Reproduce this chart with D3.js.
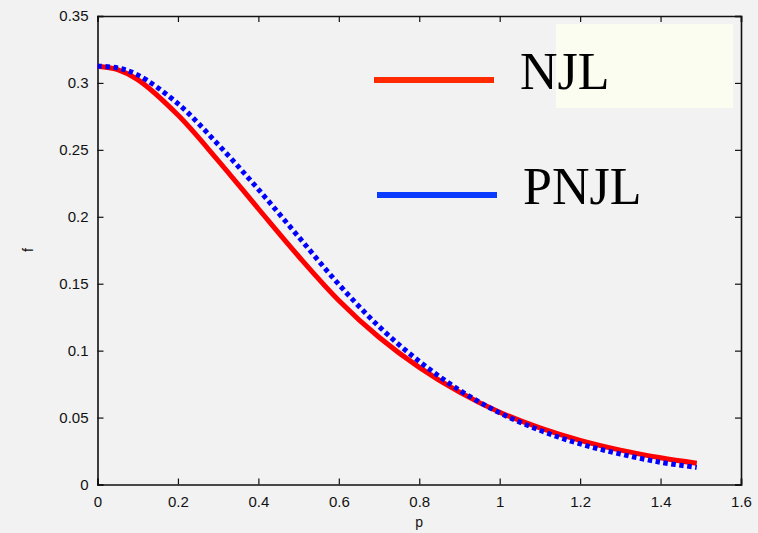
<!DOCTYPE html>
<html>
<head>
<meta charset="utf-8">
<script src="https://cdn.jsdelivr.net/npm/d3@7"></script>
<style>
    html, body { margin: 0; padding: 0; background: #f2f2f2; }
    #chart { width: 758px; height: 533px; }
    .axis-text { font-family: "Liberation Sans", Arial, sans-serif; font-size: 15px; fill: #111; }
    .legend-text { font-family: "Liberation Serif", "Times New Roman", serif; font-size: 52px; fill: #000; }
</style>
</head>
<body>
<div id="chart"></div>
<script>
// momentum grid and the two distributions
const pValues = [0, 0.05, 0.1, 0.2, 0.3, 0.4, 0.5, 0.6, 0.7, 0.8, 0.9, 1.0, 1.1, 1.2, 1.3, 1.4, 1.49];
const njlValues = [0.3125, 0.310, 0.3025, 0.276, 0.242, 0.206, 0.1705, 0.1375, 0.110, 0.0875, 0.069, 0.054, 0.0423, 0.033, 0.0257, 0.020, 0.0159];
const pnjlValues = [0.3125, 0.3112, 0.306, 0.2845, 0.254, 0.2205, 0.185, 0.1495, 0.118, 0.092, 0.0705, 0.0535, 0.0405, 0.0303, 0.0228, 0.0166, 0.0128];

const xTicks = [0, 0.2, 0.4, 0.6, 0.8, 1, 1.2, 1.4, 1.6];
const yTicks = [0, 0.05, 0.1, 0.15, 0.2, 0.25, 0.3, 0.35];

const seriesNames = ["NJL", "PNJL"];

let margin = {top: 16, right: 17, bottom: 48.5, left: 97.5};
let width = 758 - margin.left - margin.right;
let height = 533 - margin.top - margin.bottom;

let svg = d3.select("#chart").append("svg")
    .attr("width", 758)
    .attr("height", 533);

svg.append("rect")
    .attr("width", 758).attr("height", 533)
    .attr("fill", "#f2f2f2");

let g = svg.append("g")
    .attr("transform", `translate(${margin.left}, ${margin.top})`);

// scales
let x = d3.scaleLinear().domain([0, 1.6]).range([0, width]);
let y = d3.scaleLinear().domain([0, 0.35]).range([height, 0]);

// legend box (sits behind text)
g.append("rect")
    .attr("x", 458.5).attr("y", 8)
    .attr("width", 177).attr("height", 84)
    .attr("fill", "#fbfdf0");

// axes: ticks pointing inward on all four sides
let fmt = d => d3.format("")(d);
let bottomAxis = d3.axisBottom(x).tickValues(xTicks).tickSize(-6).tickPadding(12).tickFormat(fmt);
let topAxis = d3.axisTop(x).tickValues(xTicks).tickSize(-6).tickFormat("");
let leftAxis = d3.axisLeft(y).tickValues(yTicks).tickSize(-6).tickPadding(9).tickFormat(fmt);
let rightAxis = d3.axisRight(y).tickValues(yTicks).tickSize(-6).tickFormat("");

let gx = g.append("g").attr("transform", `translate(0, ${height})`).call(bottomAxis);
let gt = g.append("g").call(topAxis);
let gy = g.append("g").call(leftAxis);
let gr = g.append("g").attr("transform", `translate(${width}, 0)`).call(rightAxis);

[gx, gt, gy, gr].forEach(a => {
    a.select(".domain").attr("stroke", "#111").attr("stroke-width", 1.6);
    a.selectAll(".tick line").attr("stroke", "#111").attr("stroke-width", 1.2);
    a.selectAll("text").attr("class", "axis-text").attr("font-size", null).attr("font-family", null);
});

// axis titles
g.append("text")
    .attr("class", "axis-text")
    .attr("x", x(0.8)).attr("y", height + 42)
    .attr("text-anchor", "middle")
    .style("font-size", "14px")
    .text("p");

g.append("text")
    .attr("class", "axis-text")
    .attr("transform", `translate(${33 - margin.left}, ${250 - margin.top}) rotate(-90)`)
    .attr("text-anchor", "middle")
    .style("font-size", "14px")
    .text("f");

// curves
let line = d3.line()
    .x(d => x(d[0]))
    .y(d => y(d[1]))
    .curve(d3.curveCatmullRom.alpha(0.5));

let njlData = pValues.map((p, i) => [p, njlValues[i]]);
let pnjlData = pValues.map((p, i) => [p, pnjlValues[i]]);

g.append("path")
    .datum(njlData)
    .attr("d", line)
    .attr("fill", "none")
    .attr("stroke", "#ff0000")
    .attr("stroke-width", 5);

g.append("path")
    .datum(pnjlData)
    .attr("d", line)
    .attr("fill", "none")
    .attr("stroke", "#0000ff")
    .attr("stroke-width", 5)
    .attr("stroke-dasharray", "4.5,3.5");

// legend
let legend = g.append("g");
let legendColors = ["#ff2a00", "#0a3cff"];
let legendY = [64, 179];
let legendX = [276.5, 279.5];

seriesNames.forEach((name, i) => {
    legend.append("line")
        .attr("x1", legendX[i]).attr("x2", legendX[i] + 120)
        .attr("y1", legendY[i]).attr("y2", legendY[i])
        .attr("stroke", legendColors[i])
        .attr("stroke-width", 6);
    legend.append("text")
        .attr("class", "legend-text")
        .attr("x", legendX[i] + 146).attr("y", legendY[i] + 9)
        .text(name);
});
</script>
</body>
</html>
